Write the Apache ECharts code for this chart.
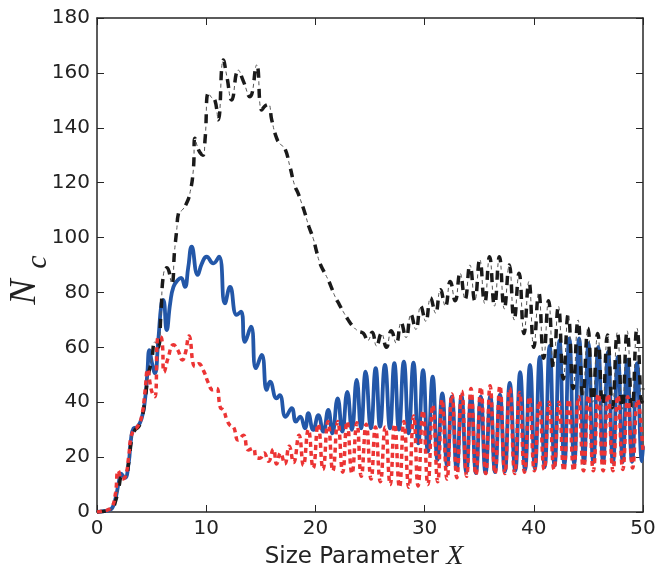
<!DOCTYPE html>
<html>
<head>
<meta charset="utf-8">
<script src="https://cdn.jsdelivr.net/npm/echarts@6/dist/echarts.min.js"></script>
<style>
  html, body { margin: 0; background: #fff; }
  #main { width: 656px; height: 574px; }
</style>
</head>
<body>
<div id="main"></div>
<script>
// tick labels
var xTicks = [0, 10, 20, 30, 40, 50];
var yTicks = [0, 20, 40, 60, 80, 100, 120, 140, 160, 180];

// blue solid curve (peaks and troughs)
var blueX = [0, 0.5, 1.0, 1.4, 1.7, 2.0, 2.2, 2.55, 2.9, 3.1, 3.35, 3.7, 4.1, 4.4, 4.6, 4.8, 5.05, 5.3, 5.6, 5.9,
  6.07, 6.38, 6.7, 7.0, 7.4, 7.7, 8.05, 8.35, 8.67, 9.22, 9.6, 10.04, 10.65, 11.17, 11.72, 12.18, 12.79, 13.19, 13.55, 14.1,
  14.56, 15.08, 15.54, 15.84, 16.45, 16.73, 17.28, 17.83, 18.22, 18.6, 19.05, 19.35, 19.8, 20.27, 20.72, 21.18, 21.55, 22.04, 22.46, 22.92,
  23.34, 23.78, 24.18, 24.6, 25.08, 25.52, 25.92, 26.37, 26.83, 27.23, 27.65, 28.1, 28.54, 28.98, 29.42, 29.86, 30.3, 30.74, 31.18, 31.62,
  32.06, 32.5, 32.94, 33.38, 33.82, 34.26, 34.7, 35.14, 35.58, 36.02, 36.45, 36.9, 37.35, 37.8, 38.3, 38.75, 39.2, 39.65, 40.1, 40.55,
  41.0, 41.45, 41.9, 42.35, 42.8, 43.25, 43.7, 44.15, 44.6, 45.0, 45.45, 45.9, 46.35, 46.8, 47.25, 47.7, 48.15, 48.55, 49.0, 49.45,
  49.9, 50];
var blueY = [0, 0.2, 0.6, 1.5, 5, 11, 14, 12.4, 18, 26, 30.5, 31, 34.3, 41, 50, 59, 54, 50.6, 62, 76,
  77.3, 66.3, 76, 82, 84.5, 85.3, 82, 89, 96.7, 86.4, 90.5, 93, 90.6, 93, 76, 82, 71.8, 73, 62, 67.5,
  52.4, 57.2, 44.5, 47.5, 41.4, 42.6, 34.7, 37.8, 32.9, 34.7, 30.5, 36, 29.9, 35.3, 29.3, 37.2, 28.7, 41.4, 29.3, 43.8,
  29.9, 48.1, 30.5, 51.1, 30.5, 52.4, 31.1, 53.6, 30.5, 54.2, 30, 54.8, 28.7, 54.4, 25, 51.7, 22, 49.3, 19, 43.2,
  17, 42, 15.5, 42.3, 14.5, 42, 14.2, 42, 14.2, 42.3, 14.5, 42.8, 14.8, 47, 15, 51, 15.3, 53.6, 15.8, 56.5,
  16.3, 60.5, 16.8, 62.5, 17.2, 63.3, 17.5, 63.3, 17.8, 61.5, 18, 60.2, 18, 58.4, 18, 56.6, 18.2, 55.4, 18.3, 54.2,
  18.5, 24];

// red dotted curve
var redX = [0, 0.5, 1.0, 1.4, 1.7, 1.95, 2.3, 2.6, 2.9, 3.1, 3.4, 3.7, 4.1, 4.4, 4.64, 4.9, 5.1, 5.31, 5.62, 5.92,
  6.15, 6.5, 7.0, 7.4, 7.82, 8.1, 8.42, 8.97, 9.3, 9.73, 10.2, 10.6, 10.95, 11.3, 11.57, 11.9, 12.2, 12.48, 12.94, 13.4,
  13.86, 14.3, 14.6, 14.93, 15.3, 15.7, 16.15, 16.45, 16.8, 17.2, 17.6, 18.0, 18.5, 18.9, 19.35, 19.8, 20.25, 20.7, 21.15, 21.6,
  22.05, 22.5, 22.9, 23.35, 23.8, 24.2, 24.65, 25.1, 25.5, 25.95, 26.4, 26.85, 27.25, 27.7, 28.1, 28.55, 29.0, 29.4, 29.85, 30.3,
  30.75, 31.2, 31.6, 32.05, 32.5, 32.95, 33.4, 33.85, 34.25, 34.7, 35.15, 35.6, 36.0, 36.45, 36.9, 37.35, 37.8, 38.25, 38.7, 39.15,
  39.6, 40.05, 40.5, 40.95, 41.4, 41.85, 42.3, 42.75, 43.2, 43.65, 44.1, 44.55, 45.0, 45.45, 45.9, 46.35, 46.8, 47.25, 47.7, 48.15,
  48.6, 49.05, 49.5, 50];
var redY = [0, 0.3, 0.8, 2, 7, 15, 12, 13, 20, 27, 30, 31, 35, 44, 52, 46, 43, 42, 63.9, 63.3,
  51, 56, 60.9, 59, 55.4, 58, 64.1, 53, 54, 51.7, 47, 44.5, 45, 38, 37.2, 33.5, 31.5, 31.1, 26.2, 28,
  22.6, 23.2, 19.8, 19.6, 21.5, 18.5, 22.9, 17.5, 21.5, 17.5, 24, 18, 28, 17, 30, 16, 32, 15.5, 33, 15,
  33, 14.5, 33, 14, 32.5, 13, 32, 12, 31, 11, 31, 10, 32, 9, 33, 9, 35, 9.5, 37, 10,
  39, 11, 41, 12, 43, 12.5, 44, 13, 45, 13.5, 45.5, 14, 46, 14, 46, 14, 45, 14, 43.5, 14.5,
  42, 15, 40.5, 15.5, 40, 15.5, 40, 15, 41, 15, 42, 15, 42.5, 15, 43, 15, 43, 15, 42.5, 15.5,
  42, 16, 41, 22];

// black dash-dot curve
var blackX = [0, 0.5, 1.0, 1.4, 1.7, 2.0, 2.3, 2.6, 2.9, 3.2, 3.5, 3.8, 4.1, 4.4, 4.7, 5.0, 5.31, 5.6, 5.85, 6.1,
  6.4, 6.84, 7.1, 7.3, 7.47, 7.8, 8.2, 8.5, 8.82, 8.97, 9.2, 9.43, 9.7, 9.9, 10.2, 10.5, 10.8, 11.1, 11.57, 11.9,
  12.33, 12.94, 13.4, 14.0, 14.62, 15.08, 15.4, 15.7, 16.0, 16.45, 16.8, 17.2, 17.67, 18.1, 18.43, 18.74, 19.05, 19.4, 19.8, 20.1,
  20.42, 20.8, 21.18, 21.5, 21.8, 22.2, 22.55, 23.0, 23.47, 23.9, 24.39, 24.8, 25.2, 25.6, 26.05, 26.5, 26.95, 27.4, 27.85, 28.3,
  28.75, 29.2, 29.65, 30.1, 30.55, 31.0, 31.45, 31.9, 32.35, 32.8, 33.25, 33.7, 34.15, 34.6, 35.05, 35.5, 35.95, 36.4, 36.85, 37.3,
  37.75, 38.2, 38.65, 39.1, 39.55, 40.0, 40.45, 40.9, 41.35, 41.8, 42.25, 42.7, 43.15, 43.6, 44.05, 44.5, 44.95, 45.4, 45.85, 46.3,
  46.75, 47.2, 47.65, 48.1, 48.55, 49.0, 49.45, 49.9, 50];
var blackY = [0, 0.2, 0.5, 1.2, 4, 9, 13, 13, 18, 27, 30, 31, 34, 41, 50, 55, 62, 60, 72, 87,
  89, 83.3, 95, 102.8, 109, 110, 112.5, 116, 124.6, 136.2, 133, 131, 130, 136, 152.6, 151, 150, 142.9, 164.7, 158.5,
  150.1, 161, 157, 151.3, 162.9, 146.5, 148, 148.5, 142.9, 136.2, 134, 132.5, 125.8, 119, 116, 112.5, 108.8, 104, 99.7, 95,
  90.6, 87.5, 84.5, 81.5, 78.5, 75.5, 73, 70, 67.5, 66, 65.1, 62.5, 65.5, 60.5, 65, 60, 66, 61.5, 69, 63.5,
  72, 66.5, 75, 69.5, 78, 72.5, 81, 75, 84, 77, 87, 77.5, 90, 77, 92, 76, 93, 75, 93, 74,
  90, 70, 87, 65, 84, 60, 80, 56, 77, 52.5, 75, 48.5, 72, 45, 70, 42, 67, 40, 65, 38.5,
  64.5, 38, 65.5, 37.5, 66, 37.5, 67, 40, 45];

function pairs(xs, ys) {
  return xs.map(function (x, i) { return [x, ys[i]]; });
}

var axisColor = '#262626';
var labelFont = { fontSize: 20, fontFamily: 'DejaVu Sans', color: '#222' };

function makeXAxis(pos, showLabel) {
  return {
    type: 'value', position: pos, min: xTicks[0], max: xTicks[xTicks.length - 1], interval: 10,
    axisLine: { show: true, onZero: false, lineStyle: { color: axisColor, width: 1.5 } },
    axisTick: { show: true, inside: true, length: 7, lineStyle: { color: axisColor, width: 1 } },
    axisLabel: Object.assign({ show: showLabel, margin: 7 }, labelFont),
    splitLine: { show: false }
  };
}
function makeYAxis(pos, showLabel) {
  return {
    type: 'value', position: pos, min: yTicks[0], max: yTicks[yTicks.length - 1], interval: 20,
    axisLine: { show: true, onZero: false, lineStyle: { color: axisColor, width: 1.5 } },
    axisTick: { show: true, inside: true, length: 7, lineStyle: { color: axisColor, width: 1 } },
    axisLabel: Object.assign({ show: showLabel, margin: 7 }, labelFont),
    splitLine: { show: false }
  };
}

var myChart = echarts.init(document.getElementById('main'));
var option = {
  animation: false,
  backgroundColor: '#fff',
  grid: { left: 97, right: 13, top: 18, bottom: 62, containLabel: false, outerBoundsMode: 'none' },
  xAxis: [makeXAxis('bottom', true), makeXAxis('top', false)],
  yAxis: [makeYAxis('left', true), makeYAxis('right', false)],
  graphic: [
    {
      type: 'text', x: 25, y: 292, rotation: Math.PI / 2,
      style: { text: 'N', fontFamily: 'Liberation Serif', fontStyle: 'italic', fontSize: 38, fill: '#222', align: 'center', verticalAlign: 'middle' }
    },
    {
      type: 'text', x: 38, y: 262, rotation: Math.PI / 2,
      style: { text: 'c', fontFamily: 'Liberation Serif', fontStyle: 'italic', fontSize: 30, fill: '#222', align: 'center', verticalAlign: 'middle' }
    },
    {
      type: 'text', x: 364, y: 557,
      style: {
        text: '{a|Size Parameter }{b|X}',
        align: 'center', verticalAlign: 'middle',
        rich: {
          a: { fontFamily: 'DejaVu Sans', fontSize: 23, fill: '#222' },
          b: { fontFamily: 'Liberation Serif', fontStyle: 'italic', fontSize: 28, fill: '#222' }
        }
      }
    }
  ],
  series: [
    {
      name: 'blue', type: 'line', smooth: 0.5, showSymbol: false, silent: true,
      data: pairs(blueX, blueY),
      lineStyle: { color: '#2357a8', width: 3.8 }
    },
    {
      name: 'black', type: 'line', smooth: 0.5, showSymbol: false, silent: true,
      data: pairs(blackX, blackY),
      lineStyle: { color: '#1a1a1a', width: 3.5, type: [9, 11], cap: 'butt' }
    },
    {
      name: 'black-dot', type: 'line', smooth: 0.5, showSymbol: false, silent: true,
      data: pairs(blackX, blackY),
      lineStyle: { color: '#555', width: 1, type: [4, 16], dashOffset: 7.5, cap: 'butt' }
    },
    {
      name: 'red', type: 'line', smooth: 0.5, showSymbol: false, silent: true,
      data: pairs(redX, redY),
      lineStyle: { color: '#ec3434', width: 3.5, type: [5, 4], cap: 'butt' }
    }
  ]
};
myChart.setOption(option);
</script>
</body>
</html>
